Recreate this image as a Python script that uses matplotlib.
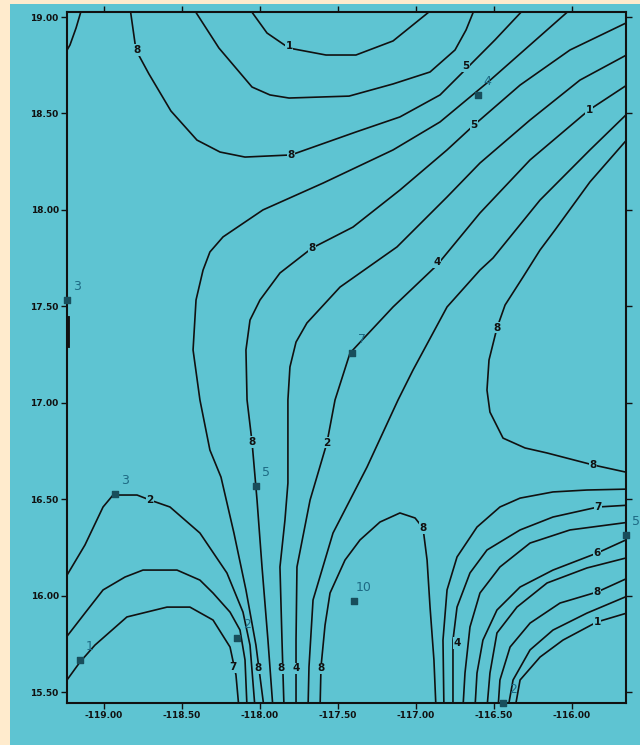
import matplotlib.pyplot as plt
from matplotlib.patches import Rectangle

BG = "#FFEBCD"
CYAN = "#5EC4D2"
INK = "#111111"
TEAL = "#1E6A84"

# ---- isolines (lon, lat) ----
corner_lon = [-119.141, -119.179, -119.218, -119.250]
corner_lat = [19.047, 18.943, 18.855, 18.810]

bowl1_lon = [-118.071, -117.955, -117.814, -117.577, -117.385, -117.147, -116.885]
bowl1_lat = [19.047, 18.917, 18.839, 18.803, 18.803, 18.876, 19.047]

bowl2_lon = [-118.429, -118.263, -118.051, -117.936, -117.814, -117.429, -117.147, -116.910,
             -116.750, -116.679, -116.622]
bowl2_lat = [19.047, 18.839, 18.637, 18.596, 18.580, 18.590, 18.653, 18.715,
             18.829, 18.933, 19.047]

bowl3_lon = [-118.833, -118.795, -118.712, -118.571, -118.404, -118.256, -118.096, -117.801, -117.385,
             -117.103, -116.846, -116.654, -116.494, -116.301]
bowl3_lat = [19.047, 18.829, 18.705, 18.513, 18.362, 18.300, 18.274, 18.285, 18.404,
             18.482, 18.596, 18.751, 18.881, 19.047]

p_lon = [-117.974, -118.026, -118.090, -118.167, -118.250, -118.321, -118.385, -118.429, -118.410,
         -118.365, -118.321, -118.237, -117.981, -117.596, -117.147, -116.846, -116.538, -116.269, -116.000]
p_lat = [15.418, 15.744, 16.030, 16.325, 16.615, 16.755, 17.015, 17.274, 17.533,
         17.688, 17.782, 17.860, 18.000, 18.139, 18.311, 18.456, 18.663, 18.855, 19.047]

q_lon = [-117.917, -117.949, -117.987, -118.019, -118.051, -118.083, -118.090, -118.064, -118.000,
         -117.872, -117.667, -117.404, -117.103, -116.801, -116.628, -116.333, -116.013, -115.628]
q_lat = [15.418, 15.770, 16.149, 16.496, 16.797, 17.015, 17.274, 17.429, 17.533,
         17.673, 17.802, 17.911, 18.103, 18.311, 18.440, 18.647, 18.829, 18.979]

r_lon = [-117.846, -117.859, -117.872, -117.840, -117.821, -117.821, -117.808, -117.769, -117.699,
         -117.487, -117.122, -116.801, -116.590, -116.269, -115.949, -115.628]
r_lat = [15.418, 15.770, 16.149, 16.392, 16.584, 17.015, 17.186, 17.315, 17.414,
         17.600, 17.808, 18.067, 18.243, 18.466, 18.673, 18.813]

s_lon = [-117.769, -117.769, -117.763, -117.679, -117.571, -117.519, -117.423, -117.147, -116.865,
         -116.590, -116.269, -115.891, -115.628]
s_lat = [15.418, 15.770, 16.149, 16.496, 16.792, 17.015, 17.258, 17.497, 17.714,
         17.984, 18.259, 18.518, 18.658]

t_lon = [-117.692, -117.686, -117.660, -117.532, -117.314, -117.115, -117.019, -116.801, -116.590,
         -116.506, -116.205, -115.885, -115.628]
t_lat = [15.418, 15.630, 15.978, 16.325, 16.667, 17.015, 17.170, 17.497, 17.688,
         17.751, 18.051, 18.311, 18.513]

arch_lon = [-117.615, -117.609, -117.583, -117.551, -117.455, -117.359, -117.231, -117.103, -117.006,
            -116.955, -116.929, -116.910, -116.885, -116.872]
arch_lat = [15.418, 15.630, 15.848, 16.014, 16.185, 16.289, 16.382, 16.429, 16.403,
            16.351, 16.185, 15.941, 15.667, 15.418]

hook_lon = [-115.628, -115.885, -116.109, -116.205, -116.314, -116.429, -116.481, -116.532, -116.545,
            -116.526, -116.442, -116.301, -116.160, -115.865, -115.628]
hook_lat = [18.383, 18.145, 17.896, 17.792, 17.652, 17.507, 17.388, 17.222, 17.066,
            16.952, 16.817, 16.766, 16.740, 16.678, 16.636]

f1_lon = [-115.628, -115.904, -116.122, -116.333, -116.462, -116.609, -116.737, -116.801, -116.827, -116.821]
f1_lat = [16.553, 16.548, 16.538, 16.506, 16.460, 16.356, 16.201, 16.030, 15.770, 15.418]
f2_lon = [-115.628, -115.833, -116.122, -116.333, -116.545, -116.654, -116.737, -116.763, -116.763]
f2_lat = [16.470, 16.460, 16.408, 16.341, 16.237, 16.118, 15.941, 15.770, 15.418]
f3_lon = [-115.628, -116.013, -116.269, -116.462, -116.590, -116.654, -116.686, -116.699]
f3_lat = [16.382, 16.341, 16.273, 16.149, 16.014, 15.838, 15.599, 15.418]
f4_lon = [-115.628, -115.840, -116.122, -116.333, -116.481, -116.571, -116.609, -116.622]
f4_lat = [16.299, 16.221, 16.133, 16.045, 15.926, 15.770, 15.599, 15.418]
f5_lon = [-115.628, -115.904, -116.160, -116.353, -116.481, -116.526, -116.545]
f5_lat = [16.201, 16.144, 16.066, 15.941, 15.807, 15.599, 15.418]
f6_lon = [-115.628, -115.840, -116.077, -116.269, -116.397, -116.462, -116.474]
f6_lat = [16.097, 16.019, 15.962, 15.858, 15.734, 15.563, 15.418]
f7_lon = [-115.628, -115.904, -116.122, -116.269, -116.378, -116.410]
f7_lat = [16.004, 15.910, 15.822, 15.719, 15.563, 15.418]
f8_lon = [-115.628, -115.840, -116.058, -116.205, -116.333, -116.365]
f8_lat = [15.915, 15.864, 15.770, 15.682, 15.563, 15.418]

a3_lon = [-119.256, -119.122, -119.006, -118.942, -118.788, -118.705, -118.577, -118.385, -118.212,
          -118.109, -118.064, -118.032]
a3_lat = [16.081, 16.263, 16.460, 16.522, 16.522, 16.496, 16.460, 16.325, 16.118,
          15.915, 15.744, 15.418]
a2_lon = [-119.256, -119.122, -119.006, -118.865, -118.750, -118.532, -118.385, -118.301, -118.192,
          -118.128, -118.096, -118.083]
a2_lat = [15.770, 15.910, 16.030, 16.097, 16.133, 16.133, 16.081, 16.014, 15.915,
          15.822, 15.667, 15.418]
a1_lon = [-119.256, -119.154, -119.058, -118.853, -118.596, -118.449, -118.301, -118.192, -118.154, -118.135]
a1_lat = [15.542, 15.656, 15.744, 15.890, 15.941, 15.941, 15.874, 15.734, 15.589, 15.418]

edge_lon = [-119.237, -119.237]
edge_lat = [17.440, 17.300]

isolines = [
    (corner_lon, corner_lat), (bowl1_lon, bowl1_lat), (bowl2_lon, bowl2_lat), (bowl3_lon, bowl3_lat),
    (p_lon, p_lat), (q_lon, q_lat), (r_lon, r_lat), (s_lon, s_lat), (t_lon, t_lat),
    (arch_lon, arch_lat), (hook_lon, hook_lat),
    (f1_lon, f1_lat), (f2_lon, f2_lat), (f3_lon, f3_lat), (f4_lon, f4_lat),
    (f5_lon, f5_lat), (f6_lon, f6_lat), (f7_lon, f7_lat), (f8_lon, f8_lat),
    (a3_lon, a3_lat), (a2_lon, a2_lat), (a1_lon, a1_lat),
]

# ---- contour labels ----
clab_lon = [-117.814, -116.679, -116.628, -118.788, -117.801, -115.891, -117.667, -116.865,
            -116.481, -117.571, -118.051, -115.865, -116.955, -115.833, -115.840, -115.840,
            -115.840, -116.737, -118.705, -118.173, -118.013, -117.865, -117.769, -117.609]
clab_lat = [18.850, 18.746, 18.440, 18.829, 18.285, 18.518, 17.802, 17.730,
            17.388, 16.792, 16.797, 16.678, 16.351, 16.460, 16.221, 16.019,
            15.864, 15.755, 16.496, 15.630, 15.625, 15.625, 15.625, 15.625]
clab_txt = ["1", "5", "5", "8", "8", "1", "8", "4",
            "8", "2", "8", "8", "8", "7", "6", "8",
            "1", "4", "2", "7", "8", "8", "4", "8"]

# ---- stations ----
st_lon = [-119.237, -118.929, -118.026, -117.410, -117.397, -118.147, -119.154, -116.603, -115.654, -116.442]
st_lat = [17.533, 16.527, 16.569, 17.258, 15.973, 15.781, 15.667, 18.596, 16.314, 15.444]
st_txt = ["3", "3", "5", "7", "10", "2", "1", "4", "5", "2"]

x_ticks = [-119.0, -118.5, -118.0, -117.5, -117.0, -116.5, -116.0]
y_ticks = [19.0, 18.5, 18.0, 17.5, 17.0, 16.5, 16.0, 15.5]

fig = plt.figure(figsize=(6.4, 7.45), dpi=100, facecolor=BG)
fig.patches.append(Rectangle((10 / 640, 0), 630 / 640, 741 / 745, transform=fig.transFigure,
                             facecolor=CYAN, edgecolor="none", zorder=-5))

ax = fig.add_axes([0.1047, 0.0564, 0.8734, 0.9275])
ax.set_facecolor(CYAN)

for lon, lat in isolines:
    ax.plot(lon, lat, color=INK, lw=1.2, solid_capstyle="butt", solid_joinstyle="round")
ax.plot(edge_lon, edge_lat, color=INK, lw=3.5)

for lo, la, t in zip(clab_lon, clab_lat, clab_txt):
    ax.text(lo, la, t, fontsize=7.5, fontweight="bold", color=INK, ha="center", va="center",
            bbox=dict(boxstyle="square,pad=0.05", fc=CYAN, ec="none"), zorder=4)

ax.scatter(st_lon, st_lat, marker="s", s=14, color="#184e5c", zorder=5, clip_on=False)
for lo, la, t in zip(st_lon, st_lat, st_txt):
    ax.annotate(t, (lo, la), xytext=(7, 10), textcoords="offset points", color=TEAL,
                fontsize=9, ha="center", va="center", annotation_clip=False, zorder=5)

ax.set_xlim(-119.237, -115.654)
ax.set_ylim(15.444, 19.026)
ax.set_xticks(x_ticks)
ax.set_xticklabels([f"{v:.2f}" for v in x_ticks])
ax.set_yticks(y_ticks)
ax.set_yticklabels([f"{v:.2f}" for v in y_ticks])
ax.tick_params(direction="out", length=4, width=1, top=True, right=True,
               labelsize=6.5, pad=2, colors=INK)
for lbl in ax.get_xticklabels() + ax.get_yticklabels():
    lbl.set_fontweight("bold")
for sp in ax.spines.values():
    sp.set_linewidth(1.5)
    sp.set_color(INK)

fig.savefig("out.png", dpi=100, facecolor=BG)
